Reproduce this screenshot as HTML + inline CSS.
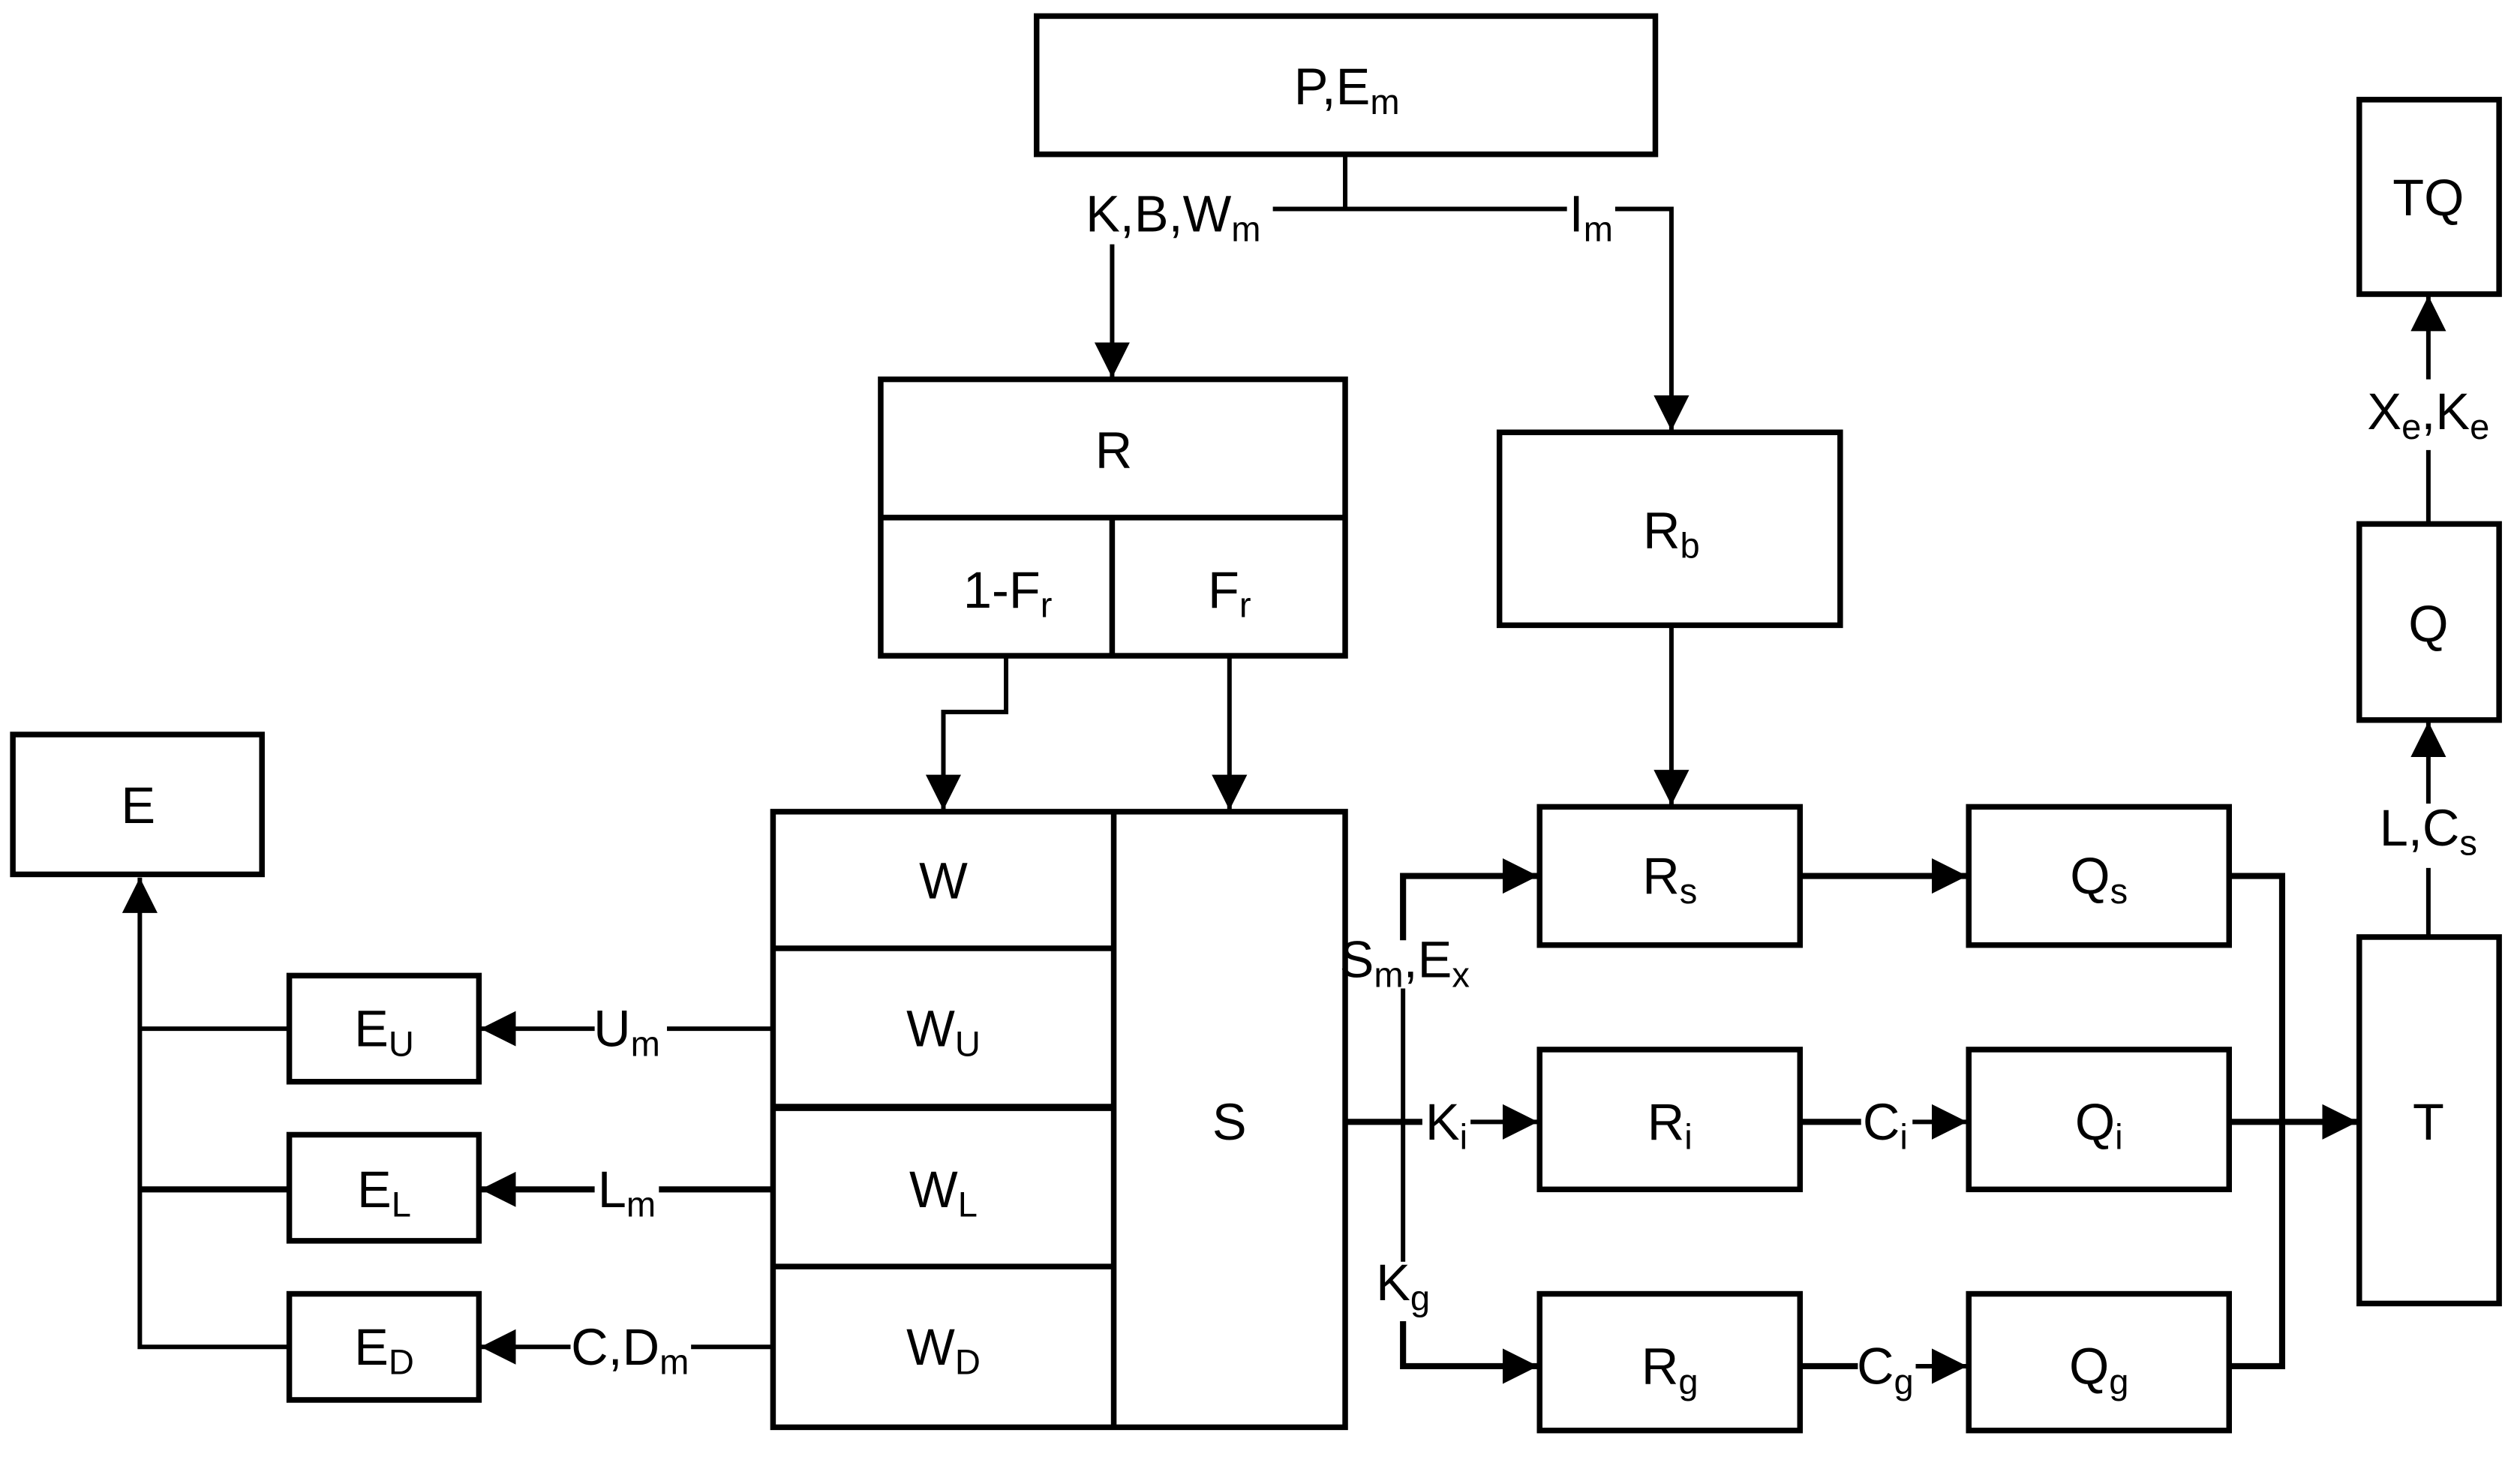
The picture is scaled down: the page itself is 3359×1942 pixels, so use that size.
<!DOCTYPE html>
<html><head><meta charset="utf-8"><style>html,body{margin:0;padding:0;background:#fff}svg{display:block}</style></head>
<body>
<svg width="3359" height="1942" viewBox="0 0 1568 906.5" preserveAspectRatio="none" xmlns="http://www.w3.org/2000/svg">
<defs>
<marker id="a" viewBox="0 0 10 10" refX="10" refY="5" markerWidth="22" markerHeight="22" markerUnits="userSpaceOnUse" orient="auto"><path d="M0,0 L10,5 L0,10 z" fill="#000"/></marker>
</defs>
<rect width="1568" height="907" fill="#fff"/>
<g fill="none" stroke="#000" stroke-width="3.5">
<rect x="645" y="10" width="385" height="86"/>
<rect x="548" y="236" width="289" height="172"/>
<line x1="548" y1="322" x2="837" y2="322"/>
<line x1="692" y1="322" x2="692" y2="408"/>
<rect x="933" y="269" width="212" height="120"/>
<rect x="481" y="505" width="356" height="383"/>
<line x1="693" y1="505" x2="693" y2="888"/>
<line x1="481" y1="590" x2="693" y2="590"/>
<line x1="481" y1="689" x2="693" y2="689" stroke-width="4.5"/>
<line x1="481" y1="788" x2="693" y2="788"/>
<rect x="8" y="457" width="155" height="87"/>
<rect x="180" y="607" width="118" height="66"/>
<rect x="180" y="706" width="118" height="66"/>
<rect x="180" y="805" width="118" height="66"/>
<rect x="958" y="502" width="162" height="86"/>
<rect x="958" y="653" width="162" height="87"/>
<rect x="958" y="805" width="162" height="85"/>
<rect x="1225" y="502" width="162" height="86"/>
<rect x="1225" y="653" width="162" height="87"/>
<rect x="1225" y="805" width="162" height="85"/>
<rect x="1468" y="583" width="87" height="228"/>
<rect x="1468" y="326" width="87" height="122"/>
<rect x="1468" y="62" width="87" height="121"/>
</g>
<g fill="none" stroke="#000" stroke-width="2.8">
<line x1="837" y1="96" x2="837" y2="130"/>
<polyline points="792,130 975,130"/>
<polyline points="1005,130 1040,130 1040,268" marker-end="url(#a)"/>
<line x1="692" y1="152" x2="692" y2="235" marker-end="url(#a)"/>
<line x1="1040" y1="389" x2="1040" y2="501" marker-end="url(#a)"/>
<polyline points="626,408 626,443 587,443 587,504" marker-end="url(#a)"/>
<line x1="765" y1="408" x2="765" y2="504" marker-end="url(#a)"/>
<polyline points="180,838 87,838 87,546" marker-end="url(#a)"/>
<line x1="87" y1="640" x2="180" y2="640"/>
<line x1="87" y1="740" x2="180" y2="740" stroke-width="3.8"/>
<line x1="370" y1="640" x2="299" y2="640" marker-end="url(#a)"/>
<line x1="415" y1="640" x2="481" y2="640"/>
<line x1="370" y1="740" x2="299" y2="740" marker-end="url(#a)" stroke-width="3.8"/>
<line x1="410" y1="740" x2="481" y2="740" stroke-width="3.8"/>
<line x1="355" y1="838" x2="299" y2="838" marker-end="url(#a)"/>
<line x1="430" y1="838" x2="481" y2="838"/>
<polyline points="873,585 873,545 957,545" marker-end="url(#a)" stroke-width="3.8"/>
<line x1="873" y1="615" x2="873" y2="785"/>
<polyline points="873,822 873,850 957,850" marker-end="url(#a)" stroke-width="3.8"/>
<line x1="837" y1="698" x2="885" y2="698" stroke-width="3.8"/>
<line x1="915" y1="698" x2="957" y2="698" marker-end="url(#a)"/>
<line x1="1120" y1="545" x2="1224" y2="545" marker-end="url(#a)" stroke-width="3.8"/>
<line x1="1120" y1="698" x2="1158" y2="698" stroke-width="3.8"/>
<line x1="1190" y1="698" x2="1224" y2="698" marker-end="url(#a)"/>
<line x1="1120" y1="850" x2="1156" y2="850" stroke-width="3.8"/>
<line x1="1192" y1="850" x2="1224" y2="850" marker-end="url(#a)"/>
<polyline points="1387,545 1420,545 1420,850 1387,850" stroke-width="3.8"/>
<line x1="1387" y1="698" x2="1467" y2="698" marker-end="url(#a)" stroke-width="3.8"/>
<line x1="1511" y1="583" x2="1511" y2="540"/>
<line x1="1511" y1="500" x2="1511" y2="449" marker-end="url(#a)"/>
<line x1="1511" y1="326" x2="1511" y2="280"/>
<line x1="1511" y1="236" x2="1511" y2="184" marker-end="url(#a)"/>
</g>
<g font-family="Liberation Sans, Arial, sans-serif" font-size="32" fill="#000" text-anchor="middle">
<text x="838" y="65">P,E<tspan font-size="22" dy="6">m</tspan></text>
<text x="730" y="144">K,B,W<tspan font-size="22" dy="6">m</tspan></text>
<text x="990" y="144">I<tspan font-size="22" dy="6">m</tspan></text>
<text x="693" y="291">R</text>
<text x="627" y="378">1-F<tspan font-size="22" dy="6">r</tspan></text>
<text x="765" y="378">F<tspan font-size="22" dy="6">r</tspan></text>
<text x="1040" y="341">R<tspan font-size="22" dy="6">b</tspan></text>
<text x="86" y="512">E</text>
<text x="587" y="559">W</text>
<text x="587" y="651">W<tspan font-size="22" dy="6">U</tspan></text>
<text x="587" y="751">W<tspan font-size="22" dy="6">L</tspan></text>
<text x="587" y="849">W<tspan font-size="22" dy="6">D</tspan></text>
<text x="765" y="709">S</text>
<text x="239" y="651">E<tspan font-size="22" dy="6">U</tspan></text>
<text x="239" y="751">E<tspan font-size="22" dy="6">L</tspan></text>
<text x="239" y="849">E<tspan font-size="22" dy="6">D</tspan></text>
<text x="390" y="651">U<tspan font-size="22" dy="6">m</tspan></text>
<text x="390" y="751">L<tspan font-size="22" dy="6">m</tspan></text>
<text x="392" y="849">C,D<tspan font-size="22" dy="6">m</tspan></text>
<text x="874" y="608">S<tspan font-size="22" dy="6">m</tspan><tspan dy="-6">,E</tspan><tspan font-size="22" dy="6">x</tspan></text>
<text x="900" y="709">K<tspan font-size="22" dy="6">i</tspan></text>
<text x="873" y="809">K<tspan font-size="22" dy="6">g</tspan></text>
<text x="1039" y="556">R<tspan font-size="22" dy="6">s</tspan></text>
<text x="1039" y="709">R<tspan font-size="22" dy="6">i</tspan></text>
<text x="1039" y="861">R<tspan font-size="22" dy="6">g</tspan></text>
<text x="1306" y="556">Q<tspan font-size="22" dy="6">s</tspan></text>
<text x="1306" y="709">Q<tspan font-size="22" dy="6">i</tspan></text>
<text x="1306" y="861">Q<tspan font-size="22" dy="6">g</tspan></text>
<text x="1173" y="709">C<tspan font-size="22" dy="6">i</tspan></text>
<text x="1173" y="861">C<tspan font-size="22" dy="6">g</tspan></text>
<text x="1511" y="709">T</text>
<text x="1511" y="399">Q</text>
<text x="1511" y="134">TQ</text>
<text x="1511" y="526">L,C<tspan font-size="22" dy="6">s</tspan></text>
<text x="1511" y="267">X<tspan font-size="22" dy="6">e</tspan><tspan dy="-6">,K</tspan><tspan font-size="22" dy="6">e</tspan></text>
</g>
</svg>
</body></html>
